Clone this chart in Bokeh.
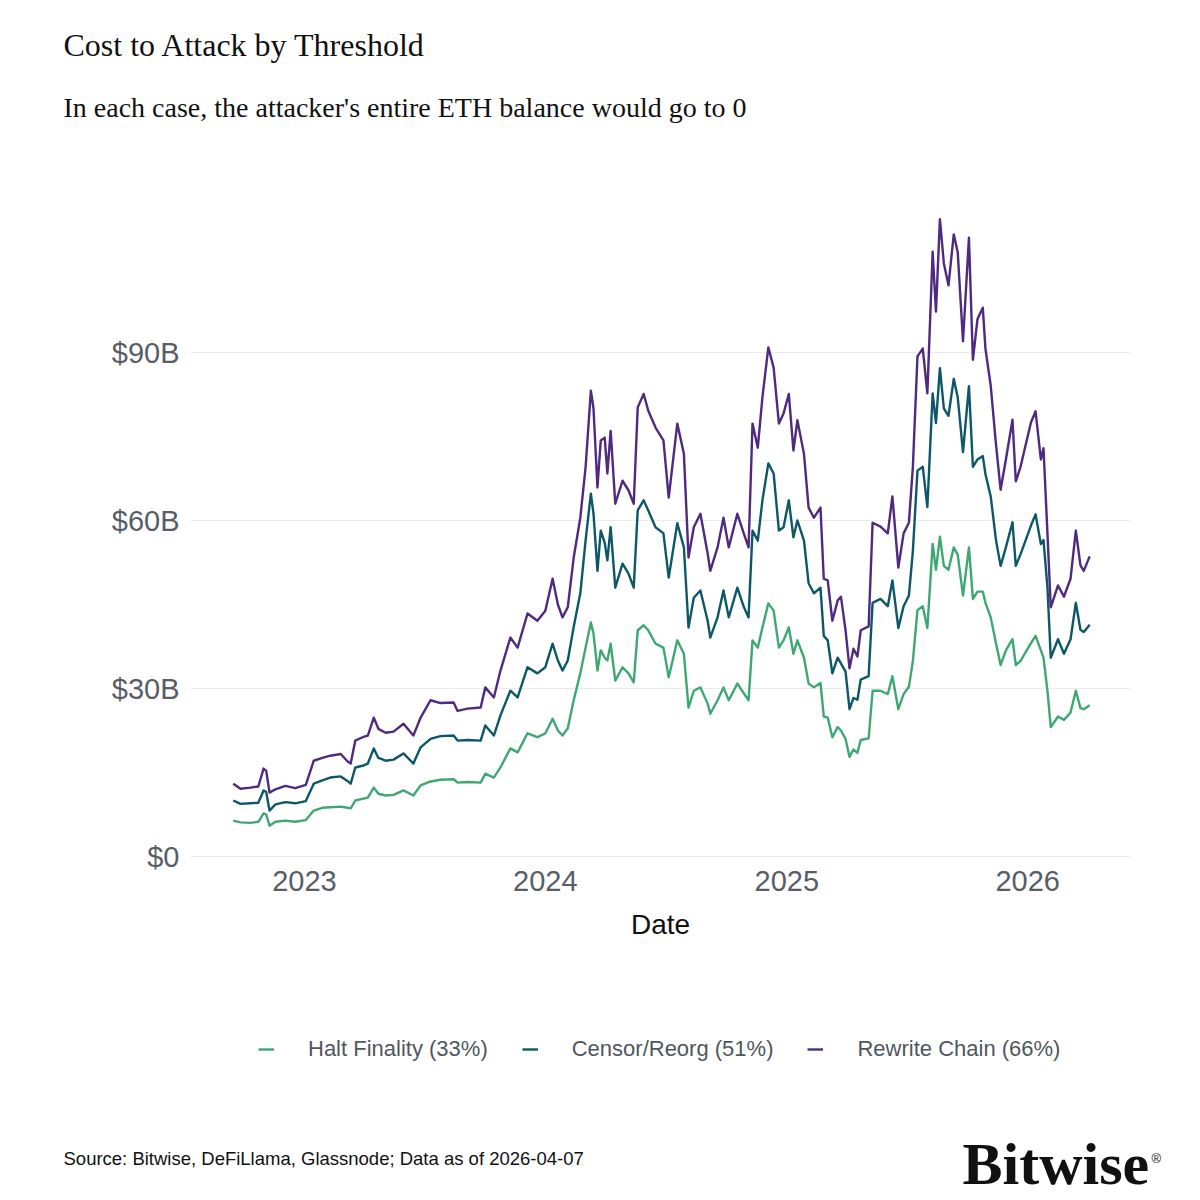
import pandas as pd
from bokeh.plotting import figure
from bokeh.models import (Range1d, FixedTicker, DatetimeTickFormatter, Label,
                          Legend, LegendItem, ColumnDataSource)
from bokeh.embed import file_html
from bokeh.resources import INLINE

# ---------------- data ----------------
dates = [
    "2022-09-15", "2022-09-26", "2022-10-11", "2022-10-23", "2022-10-31", "2022-11-04", "2022-11-09", "2022-11-18", "2022-12-03", "2022-12-18",
    "2023-01-03", "2023-01-15", "2023-01-28", "2023-02-09", "2023-02-25", "2023-03-07", "2023-03-12", "2023-03-19", "2023-03-30", "2023-04-07",
    "2023-04-16", "2023-04-23", "2023-05-04", "2023-05-16", "2023-05-31", "2023-06-15", "2023-06-26", "2023-07-11", "2023-07-26", "2023-08-15",
    "2023-08-21", "2023-09-05", "2023-09-25", "2023-10-02", "2023-10-15", "2023-10-25", "2023-11-09", "2023-11-20", "2023-12-05", "2023-12-20",
    "2024-01-01", "2024-01-12", "2024-01-20", "2024-01-27", "2024-02-04", "2024-02-13", "2024-02-23", "2024-03-02", "2024-03-10", "2024-03-14",
    "2024-03-20", "2024-03-25", "2024-03-31", "2024-04-04", "2024-04-09", "2024-04-16", "2024-04-27", "2024-05-06", "2024-05-14", "2024-05-20",
    "2024-05-29", "2024-06-05", "2024-06-16", "2024-06-28", "2024-07-06", "2024-07-19", "2024-07-29", "2024-08-05", "2024-08-13", "2024-08-23",
    "2024-09-03", "2024-09-07", "2024-09-18", "2024-09-27", "2024-10-05", "2024-10-18", "2024-10-28", "2024-11-04", "2024-11-10", "2024-11-18",
    "2024-11-25", "2024-12-04", "2024-12-12", "2024-12-20", "2024-12-27", "2025-01-04", "2025-01-11", "2025-01-17", "2025-01-27", "2025-02-03",
    "2025-02-11", "2025-02-21", "2025-02-26", "2025-03-04", "2025-03-11", "2025-03-19", "2025-03-24", "2025-03-31", "2025-04-06", "2025-04-12",
    "2025-04-18", "2025-04-23", "2025-05-05", "2025-05-11", "2025-05-23", "2025-06-03", "2025-06-10", "2025-06-19", "2025-06-27", "2025-07-05",
    "2025-07-11", "2025-07-18", "2025-07-26", "2025-08-02", "2025-08-10", "2025-08-15", "2025-08-21", "2025-08-27", "2025-09-03", "2025-09-11",
    "2025-09-17", "2025-09-25", "2025-10-04", "2025-10-10", "2025-10-17", "2025-10-25", "2025-10-29", "2025-11-06", "2025-11-14", "2025-11-21",
    "2025-11-29", "2025-12-09", "2025-12-14", "2025-12-21", "2026-01-06", "2026-01-13", "2026-01-21", "2026-01-25", "2026-01-31", "2026-02-05",
    "2026-02-16", "2026-02-25", "2026-03-07", "2026-03-15", "2026-03-22", "2026-03-27", "2026-04-05",
]

# Cost to attack, $B
halt_finality = [
    6.4, 6.1, 6.0, 6.2, 7.7, 7.5, 5.5, 6.2, 6.4, 6.2,
    6.5, 8.2, 8.7, 8.8, 8.9, 8.7, 8.6, 10.0, 10.3, 10.5,
    12.3, 11.2, 10.9, 11.0, 11.8, 10.9, 12.7, 13.4, 13.7, 13.8,
    13.2, 13.3, 13.2, 14.8, 14.1, 15.9, 19.3, 18.6, 22.0, 21.3,
    22.0, 24.6, 22.5, 21.6, 22.9, 27.9, 32.7, 37.3, 41.8, 39.8,
    33.2, 36.8, 35.5, 35.0, 38.0, 31.4, 33.8, 32.7, 31.1, 40.4,
    41.3, 40.4, 38.0, 37.3, 32.0, 38.6, 36.2, 26.6, 29.6, 30.2,
    27.3, 25.5, 27.9, 30.2, 27.9, 30.9, 29.1, 27.9, 38.6, 37.3,
    40.9, 45.2, 43.9, 37.3, 38.6, 40.9, 36.2, 38.6, 35.5, 30.9,
    30.2, 31.0, 25.0, 24.8, 21.3, 23.1, 22.5, 21.0, 17.8, 19.1,
    18.5, 20.8, 21.1, 29.6, 29.6, 29.0, 32.2, 26.3, 29.0, 30.3,
    34.9, 44.0, 44.7, 40.8, 55.8, 51.2, 57.1, 51.9, 51.2, 55.2,
    53.9, 46.6, 55.2, 46.0, 47.3, 47.3, 45.3, 42.7, 38.1, 34.2,
    36.8, 38.8, 34.2, 34.9, 38.1, 39.4, 36.8, 35.5, 29.6, 23.1,
    25.0, 24.4, 25.7, 29.6, 26.5, 26.3, 27.0,
]
censor_reorg = [
    10.0, 9.4, 9.5, 9.6, 11.8, 11.5, 8.2, 9.3, 9.7, 9.5,
    9.9, 13.0, 13.6, 14.1, 14.3, 13.5, 13.0, 15.9, 16.2, 16.6,
    19.3, 17.6, 17.1, 17.3, 18.4, 16.6, 19.5, 21.0, 21.5, 21.6,
    20.7, 20.8, 20.7, 23.4, 21.6, 25.2, 29.6, 28.4, 33.8, 32.7,
    33.8, 38.0, 35.0, 33.2, 35.0, 41.0, 47.0, 56.4, 64.8, 61.2,
    51.0, 58.2, 56.0, 52.9, 58.8, 48.0, 52.3, 50.5, 48.0, 61.8,
    63.6, 61.8, 58.8, 57.7, 49.8, 59.5, 55.2, 40.9, 46.2, 47.5,
    42.1, 39.1, 42.7, 47.5, 42.7, 48.0, 44.5, 42.7, 58.2, 56.4,
    63.6, 70.2, 68.4, 58.2, 58.8, 63.6, 57.0, 60.0, 56.4, 48.8,
    47.0, 48.0, 39.4, 38.6, 32.7, 35.5, 34.5, 33.0, 26.3, 28.3,
    28.0, 31.6, 32.2, 45.3, 46.0, 44.7, 49.3, 40.8, 44.7, 46.6,
    54.5, 68.9, 69.6, 62.4, 82.7, 77.4, 87.2, 80.0, 78.7, 85.3,
    82.0, 72.2, 84.0, 69.6, 70.9, 71.5, 68.3, 64.3, 56.5, 51.9,
    55.2, 59.7, 51.9, 53.9, 59.1, 61.1, 55.8, 56.5, 48.0, 35.5,
    38.8, 36.2, 38.8, 45.3, 40.5, 40.1, 41.4,
]
rewrite_chain = [
    13.0, 12.1, 12.3, 12.5, 15.7, 15.3, 11.4, 12.0, 12.6, 12.2,
    12.8, 17.1, 17.6, 18.0, 18.3, 17.0, 16.6, 20.7, 21.3, 21.6,
    24.8, 22.8, 22.1, 22.3, 23.7, 21.6, 24.8, 27.9, 27.4, 27.5,
    26.0, 26.4, 26.6, 30.2, 28.4, 33.2, 39.1, 37.3, 43.4, 42.1,
    43.9, 49.6, 45.0, 42.7, 44.5, 53.4, 60.5, 69.5, 83.2, 80.0,
    65.9, 74.3, 74.8, 68.4, 76.0, 63.0, 67.1, 65.4, 63.0, 80.2,
    82.6, 79.6, 76.6, 74.3, 64.1, 77.3, 71.9, 53.4, 58.8, 61.2,
    54.1, 51.0, 55.2, 60.5, 55.2, 61.2, 57.6, 55.2, 77.3, 73.0,
    82.0, 90.9, 87.3, 77.3, 79.1, 82.6, 72.5, 77.9, 71.9, 62.3,
    60.5, 62.3, 49.6, 49.3, 42.1, 45.7, 46.4, 40.4, 33.6, 37.1,
    35.7, 40.4, 41.1, 59.6, 58.9, 57.7, 64.3, 51.6, 57.7, 59.6,
    69.5, 89.3, 90.7, 82.7, 108.0, 97.3, 113.8, 105.9, 102.0, 111.1,
    107.9, 92.0, 110.5, 88.7, 96.0, 98.0, 90.7, 84.1, 73.6, 65.5,
    70.9, 78.0, 67.0, 69.5, 77.5, 79.5, 70.9, 72.9, 57.7, 44.5,
    48.4, 46.4, 49.6, 58.2, 52.0, 51.0, 53.6,
]

series_names = ["Halt Finality (33%)", "Censor/Reorg (51%)", "Rewrite Chain (66%)"]
series_colors = ["#3fa872", "#0d5868", "#4f2a80"]

y_ticks = [0, 30, 60, 90]
y_tick_labels = ["$0", "$30B", "$60B", "$90B"]
x_tick_years = [2023, 2024, 2025, 2026]

title_text = "Cost to Attack by Threshold"
subtitle_text = "In each case, the attacker's entire ETH balance would go to 0"
source_text = "Source: Bitwise, DeFiLlama, Glassnode; Data as of 2026-04-07"
logo_text = "Bitwise"

# ---------------- geometry (page pixels) ----------------
W = H = 1200
PANEL_L, PANEL_R = 190, 1130         # plotting panel horizontal extent
Y0_PX, PX_PER_B = 856, 5.6           # pixel row of $0 and pixels per $1B
X0_PX, PX_PER_DAY = 304, 241.0 / 365.25   # pixel column of 2023-01-01

origin = pd.Timestamp("2023-01-01")


def x_at(px):
    return origin + pd.Timedelta(days=(px - X0_PX) / PX_PER_DAY)


def ms(ts):
    return ts.value / 1e6


x_range = Range1d(x_at(0), x_at(W))
y_range = Range1d(-(H - Y0_PX) / PX_PER_B, Y0_PX / PX_PER_B)

sans = "Liberation Sans"
serif = "Liberation Serif"
tick_color = "#575e67"

source = ColumnDataSource(dict(
    date=pd.to_datetime(dates),
    halt=halt_finality,
    censor=censor_reorg,
    rewrite=rewrite_chain,
))

p = figure(width=W, height=H, x_axis_type="datetime",
           x_range=x_range, y_range=y_range,
           output_backend="svg", toolbar_location=None, min_border=0)
p.outline_line_color = None
p.background_fill_color = "white"
p.border_fill_color = "white"

renderers = []
for col, color in zip(["halt", "censor", "rewrite"], series_colors):
    r = p.line("date", col, source=source, line_color=color, line_width=2.4,
               line_join="round")
    renderers.append(r)

# axes drawn at fixed locations inside the canvas
p.yaxis.fixed_location = ms(x_at(PANEL_L))
p.xaxis.fixed_location = -1.0
p.xaxis.bounds = (ms(x_at(PANEL_L)), ms(x_at(PANEL_R)))

p.yaxis.ticker = FixedTicker(ticks=y_ticks)
p.yaxis.major_label_overrides = {t: l for t, l in zip(y_ticks, y_tick_labels)}
p.xaxis.ticker = FixedTicker(ticks=[ms(pd.Timestamp(f"{y}-01-01")) for y in x_tick_years])
p.xaxis.formatter = DatetimeTickFormatter(years="%Y", months="%Y", days="%Y",
                                          hours="%Y", minutes="%Y", seconds="%Y")

for ax in (p.xaxis[0], p.yaxis[0]):
    ax.axis_line_color = None
    ax.major_tick_line_color = None
    ax.minor_tick_line_color = None
    ax.major_tick_out = 0
    ax.major_tick_in = 0
    ax.minor_tick_out = 0
    ax.major_label_text_font = sans
    ax.major_label_text_font_size = "29px"
    ax.major_label_text_color = tick_color

p.yaxis.major_label_standoff = 11
p.xaxis.major_label_standoff = 9
p.xaxis.axis_label = "Date"
p.xaxis.axis_label_text_font = sans
p.xaxis.axis_label_text_font_size = "28px"
p.xaxis.axis_label_text_font_style = "normal"
p.xaxis.axis_label_text_color = "#111111"
p.xaxis.axis_label_standoff = 14

p.xgrid.visible = False
p.ygrid.grid_line_color = "#ebebeb"
p.ygrid.grid_line_width = 1.2
p.ygrid.cross_bounds = (ms(x_at(PANEL_L)), ms(x_at(PANEL_R)))

legend = Legend(
    items=[LegendItem(label=n, renderers=[r]) for n, r in zip(series_names, renderers)],
    orientation="horizontal", location=(258, H - 1062),
    glyph_width=16, glyph_height=24, label_height=24,
    label_standoff=34, spacing=34, padding=0, margin=0,
    border_line_color=None, background_fill_alpha=0,
    label_text_font=sans, label_text_font_size="22px",
    label_text_color="#50575f",
)
p.add_layout(legend, "center")

BASELINE_SHIFT = 0.38   # measured offset of rendered baseline, as a fraction of font size


def add_text(x, baseline_y, text, font, size_px, style="normal", color="#111111"):
    y_top_px = baseline_y - BASELINE_SHIFT * size_px
    p.add_layout(Label(x=x, y=H - y_top_px, x_units="screen", y_units="screen",
                       text=text, text_font=font, text_font_size=f"{size_px}px",
                       text_font_style=style, text_color=color,
                       text_baseline="alphabetic"))


add_text(63, 57, title_text, serif, 32)
add_text(63, 118, subtitle_text, serif, 28)
add_text(63, 1165, source_text, sans, 18.5)
add_text(962, 1186, logo_text, serif, 60, style="bold")
add_text(1151, 1163, "®", sans, 13)

open("out.html", "w").write(file_html(p, INLINE))
